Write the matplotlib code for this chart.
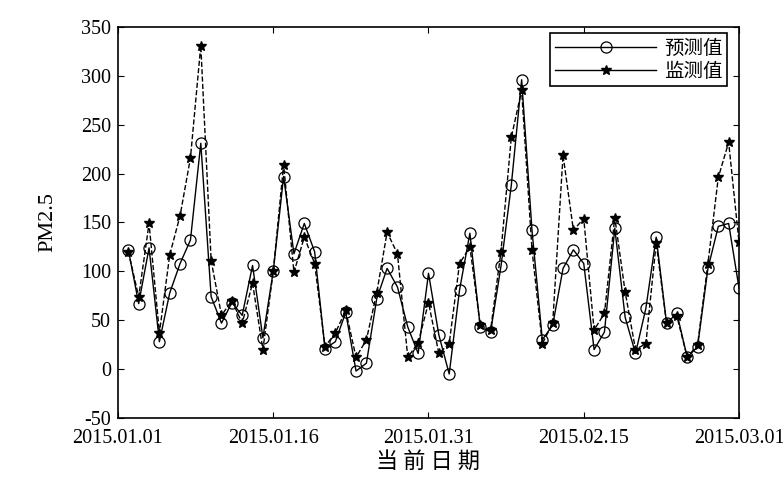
import numpy as np
import matplotlib
matplotlib.use('Agg')
import matplotlib.pyplot as plt

# 日序号 (1..60)，2015.01.01 ~ 2015.03.01
days = np.arange(1, 61)

# 预测值
pred = [122, 67, 124, 28, 78, 108, 132, 231, 74, 47,
        68, 55, 106, 32, 100, 197, 118, 149, 120, 21,
        28, 58, -2, 6, 72, 103, 84, 43, 16, 98,
        35, -5, 81, 139, 43, 38, 105, 188, 296, 142,
        30, 45, 103, 122, 108, 20, 38, 144, 53, 16,
        62, 135, 47, 57, 12, 23, 103, 146, 149, 83]

# 监测值
obs = [120, 74, 149, 37, 117, 157, 216, 331, 111, 55,
       70, 47, 88, 20, 100, 209, 99, 135, 108, 23,
       37, 60, 12, 30, 78, 140, 118, 12, 27, 68,
       16, 26, 108, 125, 45, 40, 120, 237, 285, 122,
       26, 47, 219, 142, 154, 40, 57, 155, 79, 20,
       26, 129, 47, 54, 12, 25, 108, 196, 232, 130]

xtick_pos = [0, 15, 30, 45, 60]
xtick_labels = ['2015.01.01', '2015.01.16', '2015.01.31', '2015.02.15', '2015.03.01']
ytick_pos = [-50, 0, 50, 100, 150, 200, 250, 300, 350]

serif = ['Liberation Serif', 'DejaVu Serif']
cjk = ['Noto Sans CJK SC', 'DejaVu Sans']

fig = plt.figure(figsize=(7.83, 4.95), dpi=100)
ax = fig.add_axes([0.1507, 0.1556, 0.7931, 0.79])

ax.plot(days, pred, '-', color='black', linewidth=1.0, marker='o', markersize=8,
        markerfacecolor='none', markeredgecolor='black', markeredgewidth=0.9,
        label='预测值')
ax.plot(days, obs, '--', color='black', linewidth=1.0, marker='*', markersize=7,
        markerfacecolor='black', markeredgecolor='black', label='监测值')

ax.set_xlim(0, 60)
ax.set_ylim(-50, 350)
ax.set_xticks(xtick_pos)
ax.set_xticklabels(xtick_labels, family=serif, fontsize=14.5)
ax.set_yticks(ytick_pos)
ax.set_yticklabels([str(v) for v in ytick_pos], family=serif, fontsize=14.5)
ax.tick_params(direction='in', top=True, right=True, length=4, width=0.8)
ax.tick_params(axis='x', pad=8)
ax.tick_params(axis='y', pad=5)
for s in ax.spines.values():
    s.set_linewidth(1.2)

ax.set_xlabel('当 前 日 期', family=cjk, fontsize=16, labelpad=1)
ax.set_ylabel('PM2.5', family=serif, fontsize=16, labelpad=17)

leg = ax.legend(loc='upper right', prop={'family': cjk, 'size': 14},
                fancybox=False, edgecolor='black', framealpha=1,
                handlelength=5.2, handletextpad=0.4, borderpad=0.25,
                labelspacing=0.1, borderaxespad=0,
                bbox_to_anchor=(0.981, 0.985))
leg.get_frame().set_linewidth(1.2)
for line in leg.get_lines():
    line.set_linestyle('-')

fig.savefig('out.png', dpi=100, facecolor='white')
